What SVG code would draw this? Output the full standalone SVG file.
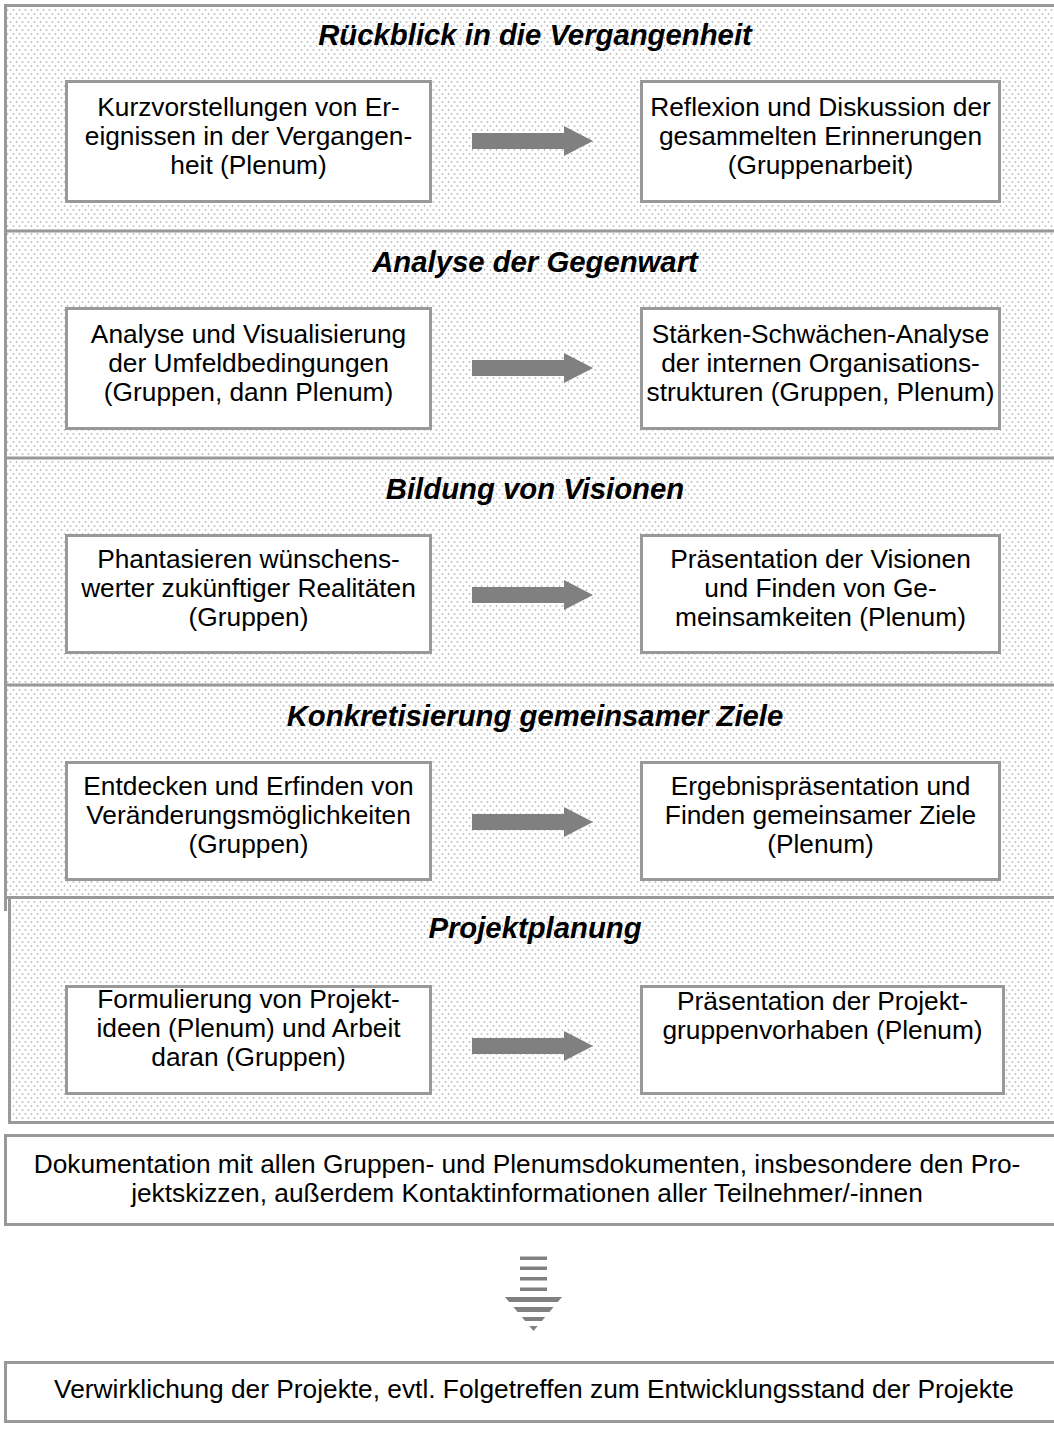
<svg xmlns="http://www.w3.org/2000/svg" width="1054" height="1445" viewBox="0 0 1054 1445">
<defs>
<pattern id="dots" width="6" height="8" patternUnits="userSpaceOnUse">
<rect width="6" height="8" fill="#ffffff"/>
<circle cx="1.5" cy="2" r="0.9" fill="#bdbdbd"/>
<circle cx="4.5" cy="6" r="0.9" fill="#bdbdbd"/>
</pattern>
<path id="arr" d="M0,-8 H92 V-15 L121,0 L92,15 V8 H0 Z"/>
</defs>
<style>
.panel{fill:url(#dots);stroke:#999;stroke-width:3}
.box{fill:#fff;stroke:#999;stroke-width:3}
.t{font-family:"Liberation Sans",Arial,sans-serif;font-size:26.3px;fill:#000;text-anchor:middle}
.h{font-family:"Liberation Sans",Arial,sans-serif;font-size:29.3px;font-weight:bold;font-style:italic;fill:#000;text-anchor:middle}
.a{fill:#808080}
.ln{stroke:#999;stroke-width:3;fill:none}
</style>
<rect width="1054" height="1445" fill="#fff"/>

<g id="panels">
<rect class="panel" x="5.5" y="5.5" width="1062" height="892"/>
<line class="ln" x1="5.5" y1="231" x2="1070" y2="231"/>
<line class="ln" x1="5.5" y1="458" x2="1070" y2="458"/>
<line class="ln" x1="5.5" y1="685" x2="1070" y2="685"/>
<line class="ln" x1="5.5" y1="895" x2="5.5" y2="911"/>
<rect class="panel" x="9.5" y="897.5" width="1062" height="225"/>
</g>

<g id="sec1">
<text class="h" x="535" y="45">Rückblick in die Vergangenheit</text>
</g>
<g id="n1a"><rect class="box" x="66.5" y="81.5" width="364" height="120"/>
<text class="t" x="248.5" y="116">Kurzvorstellungen von Er-</text>
<text class="t" x="248.5" y="145">eignissen in der Vergangen-</text>
<text class="t" x="248.5" y="174">heit (Plenum)</text></g>
<g id="n1b"><rect class="box" x="641.5" y="81.5" width="358" height="120"/>
<text class="t" x="820.5" y="116">Reflexion und Diskussion der</text>
<text class="t" x="820.5" y="145">gesammelten Erinnerungen</text>
<text class="t" x="820.5" y="174">(Gruppenarbeit)</text></g>

<g id="sec2">
<text class="h" x="535" y="272">Analyse der Gegenwart</text>
</g>
<g id="n2a"><rect class="box" x="66.5" y="308.5" width="364" height="120"/>
<text class="t" x="248.5" y="343">Analyse und Visualisierung</text>
<text class="t" x="248.5" y="372">der Umfeldbedingungen</text>
<text class="t" x="248.5" y="401">(Gruppen, dann Plenum)</text></g>
<g id="n2b"><rect class="box" x="641.5" y="308.5" width="358" height="120"/>
<text class="t" x="820.5" y="343">Stärken-Schwächen-Analyse</text>
<text class="t" x="820.5" y="372">der internen Organisations-</text>
<text class="t" x="820.5" y="401">strukturen (Gruppen, Plenum)</text></g>

<g id="sec3">
<text class="h" x="535" y="499">Bildung von Visionen</text>
</g>
<g id="n3a"><rect class="box" x="66.5" y="535.5" width="364" height="117"/>
<text class="t" x="248.5" y="568">Phantasieren wünschens-</text>
<text class="t" x="248.5" y="597">werter zukünftiger Realitäten</text>
<text class="t" x="248.5" y="626">(Gruppen)</text></g>
<g id="n3b"><rect class="box" x="641.5" y="535.5" width="358" height="117"/>
<text class="t" x="820.5" y="568">Präsentation der Visionen</text>
<text class="t" x="820.5" y="597">und Finden von Ge-</text>
<text class="t" x="820.5" y="626">meinsamkeiten (Plenum)</text></g>

<g id="sec4">
<text class="h" x="535" y="726">Konkretisierung gemeinsamer Ziele</text>
</g>
<g id="n4a"><rect class="box" x="66.5" y="762.5" width="364" height="117"/>
<text class="t" x="248.5" y="795">Entdecken und Erfinden von</text>
<text class="t" x="248.5" y="824">Veränderungsmöglichkeiten</text>
<text class="t" x="248.5" y="853">(Gruppen)</text></g>
<g id="n4b"><rect class="box" x="641.5" y="762.5" width="358" height="117"/>
<text class="t" x="820.5" y="795">Ergebnispräsentation und</text>
<text class="t" x="820.5" y="824">Finden gemeinsamer Ziele</text>
<text class="t" x="820.5" y="853">(Plenum)</text></g>

<g id="sec5">
<text class="h" x="535" y="938">Projektplanung</text>
</g>
<g id="n5a"><rect class="box" x="66.5" y="986.5" width="364" height="107"/>
<text class="t" x="248.5" y="1008">Formulierung von Projekt-</text>
<text class="t" x="248.5" y="1037">ideen (Plenum) und Arbeit</text>
<text class="t" x="248.5" y="1066">daran (Gruppen)</text></g>
<g id="n5b"><rect class="box" x="641.5" y="986.5" width="362" height="107"/>
<text class="t" x="822.5" y="1010">Präsentation der Projekt-</text>
<text class="t" x="822.5" y="1039">gruppenvorhaben (Plenum)</text></g>

<g id="doc"><rect class="box" x="5.5" y="1135.5" width="1062" height="89"/>
<text class="t" x="527" y="1173">Dokumentation mit allen Gruppen- und Plenumsdokumenten, insbesondere den Pro-</text>
<text class="t" x="527" y="1202">jektskizzen, außerdem Kontaktinformationen aller Teilnehmer/-innen</text></g>

<g id="final"><rect class="box" x="5.5" y="1362.5" width="1062" height="59"/>
<text class="t" x="534" y="1398">Verwirklichung der Projekte, evtl. Folgetreffen zum Entwicklungsstand der Projekte</text></g>

<g id="connectors">
<use href="#arr" class="a" x="472" y="141"/>
<use href="#arr" class="a" x="472" y="368"/>
<use href="#arr" class="a" x="472" y="595"/>
<use href="#arr" class="a" x="472" y="822"/>
<use href="#arr" class="a" x="472" y="1046"/>
<g class="a">
<rect x="520" y="1256.5" width="27" height="3.5"/>
<rect x="520" y="1266.5" width="27" height="3.5"/>
<rect x="520" y="1277" width="27" height="3.5"/>
<rect x="520" y="1287.5" width="27" height="3.5"/>
<polygon points="505,1297 562,1297 557.8,1302 509.2,1302"/>
<polygon points="513.4,1307 553.6,1307 549.4,1312 517.6,1312"/>
<polygon points="521.8,1317 545.2,1317 541.9,1321 525.1,1321"/>
<polygon points="529.3,1326 537.7,1326 533.5,1331"/>
</g>
</g>
</svg>
